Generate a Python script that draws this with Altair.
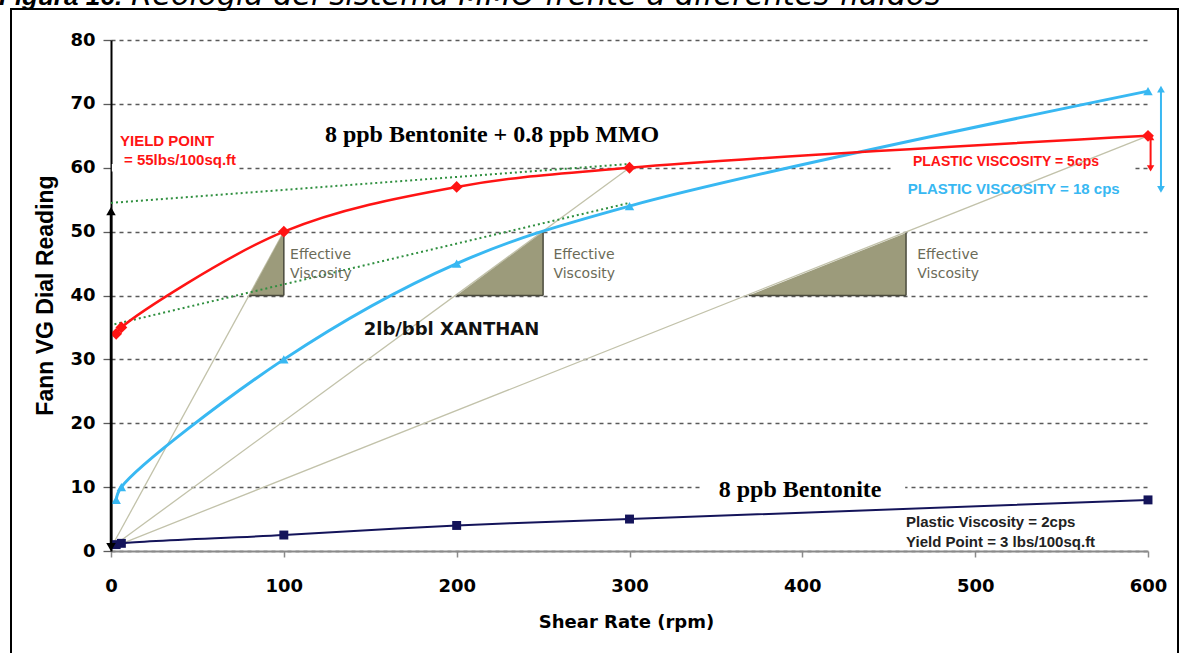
import altair as alt
import pandas as pd

# ---------------- data ----------------
rpm = [3, 6, 100, 200, 300, 600]
mmo = [34, 35, 50, 57, 60, 65]            # 8 ppb Bentonite + 0.8 ppb MMO
xanthan = [8, 10, 30, 45, 54, 72]          # 2lb/bbl XANTHAN
bentonite = [1, 1.2, 2.5, 4, 5, 8]         # 8 ppb Bentonite

x_ticks = [0, 100, 200, 300, 400, 500, 600]
y_ticks = [0, 10, 20, 30, 40, 50, 60, 70, 80]

# dotted green Bingham lines
fit_up_x = [0, 300]
fit_up_y = [54.5, 60.6]
fit_lo_x = [2, 300]
fit_lo_y = [35.5, 54.5]

# effective-viscosity rays (origin -> MMO readings)
ray_x = [100, 300, 600]
ray_y = [50, 60, 65]

# effective viscosity triangles (base at 40)
tri_x1 = [80, 200, 369]
tri_x2 = [100, 250, 460]
tri_top = [50, 50, 49.8]
tri_base = 40

RED = "#ff1414"
BLUE = "#38b8f2"
NAVY = "#14145a"
GREEN = "#2f8f3f"
BEIGE = "#c2c2aa"
OLIVE = "#9c9b7b"
SANS = "Liberation Sans"
WIDE = "DejaVu Sans"
SERIF = "Liberation Serif"

xs = alt.Scale(domain=[0, 600], nice=False, zero=False)
ys = alt.Scale(domain=[0, 80], nice=False, zero=False)

AX_X = alt.Axis(
    values=x_ticks, grid=False, tickSize=6, tickColor="#8a8a8a", tickWidth=1.5,
    domainColor="#8a8a8a", domainWidth=2, labelFont=WIDE, labelFontSize=18,
    labelFontWeight="bold", labelColor="black", labelPadding=20, labelFlush=False,
    title="Shear Rate (rpm)", titleFont=WIDE, titleFontSize=18, titleFontWeight="bold",
    titleColor="black", titleX=515, titleY=71, titleBaseline="middle", titleAlign="center")
AX_Y = alt.Axis(
    values=y_ticks, grid=True, gridDash=[4, 4], gridColor="#5a5a5a", gridWidth=1.3,
    tickSize=8, tickColor="#5a5a5a", tickWidth=1.3, domainColor="black", domainWidth=2,
    labelFont=WIDE, labelFontSize=18, labelFontWeight="bold", labelColor="black",
    labelPadding=8, title="Fann VG Dial Reading", titleFont=SANS, titleFontSize=23,
    titleFontWeight="bold", titleColor="black", titleX=-66, titleY=255,
    titleAngle=270, titleAlign="center", titleBaseline="middle")


def X(f="x"):
    return alt.X(f"{f}:Q", scale=xs, axis=AX_X)


def Y(f="y"):
    return alt.Y(f"{f}:Q", scale=ys, axis=AX_Y)


one = pd.DataFrame({"a": [0]})

# ---------------- frame & partial title ----------------
frame = alt.layer(
    alt.Chart(one).mark_rule(color="black", strokeWidth=2).encode(
        x=alt.value(-100), y=alt.value(-32), y2=alt.value(640)),
    alt.Chart(one).mark_rule(color="black", strokeWidth=2).encode(
        x=alt.value(-100), x2=alt.value(1067), y=alt.value(-31)),
    alt.Chart(one).mark_rule(color="black", strokeWidth=2).encode(
        x=alt.value(1067), y=alt.value(-32), y2=alt.value(640)),
)
title_a = alt.Chart(one).mark_text(
    text="Figura 16:", font=SANS, fontSize=26, fontWeight="bold", fontStyle="italic",
    align="left", baseline="alphabetic", color="black").encode(
    x=alt.value(-112), y=alt.value(-35))
title_b = alt.Chart(one).mark_text(
    text="Reología del sistema MMO frente a diferentes fluidos", font=WIDE, fontSize=30.5,
    fontStyle="italic", align="left", baseline="alphabetic", color="black").encode(
    x=alt.value(20), y=alt.value(-35))

# ---------------- white backgrounds behind labels on gridlines ----------------
bg_df = pd.DataFrame({
    "x": [0.5, 451, 342.5], "x2": [74, 592, 459.5],
    "y": [59.4, 59.4, 9.4], "y2": [60.6, 60.6, 10.6]})
bg = alt.Chart(bg_df).mark_rect(color="white").encode(
    x=X("x"), x2="x2:Q", y=Y("y"), y2="y2:Q")

# ---------------- rays ----------------
ray_rows = []
for i, (rx, ry) in enumerate(zip(ray_x, ray_y)):
    ray_rows.append({"r": i, "x": 0, "y": 0.5})
    ray_rows.append({"r": i, "x": rx, "y": ry})
rays = alt.Chart(pd.DataFrame(ray_rows)).mark_line(color=BEIGE, strokeWidth=1.3).encode(
    x=X(), y=Y(), detail="r:N")

# ---------------- triangles ----------------
tri_rows = []
edge_rows = []
for i, (a, b, t) in enumerate(zip(tri_x1, tri_x2, tri_top)):
    tri_rows.append({"t": i, "x": a, "y": tri_base, "y2": tri_base})
    tri_rows.append({"t": i, "x": b, "y": t, "y2": tri_base})
    edge_rows.append({"x": b, "y": tri_base, "y2": t, "x1": a})
tri = alt.Chart(pd.DataFrame(tri_rows)).mark_area(color=OLIVE, opacity=1).encode(
    x=X(), y=Y(), y2="y2:Q", detail="t:N")
edges_df = pd.DataFrame(edge_rows)
tri_edge_v = alt.Chart(edges_df).mark_rule(color="#4a4a3c", strokeWidth=1.5).encode(
    x=X(), y=Y(), y2="y2:Q")
tri_edge_h = alt.Chart(edges_df).mark_rule(color="#4a4a3c", strokeWidth=1.5).encode(
    x=X("x1"), x2="x:Q", y=Y())

# ---------------- dotted fits ----------------
fit_df = pd.DataFrame({
    "f": ["u", "u", "l", "l"],
    "x": fit_up_x + fit_lo_x, "y": fit_up_y + fit_lo_y})
fits = alt.Chart(fit_df).mark_line(color=GREEN, strokeWidth=2, strokeDash=[2, 3]).encode(
    x=X(), y=Y(), detail="f:N")

# ---------------- series ----------------
def series(vals, color, width, shape, size):
    df = pd.DataFrame({"x": rpm, "y": vals})
    line = alt.Chart(df).mark_line(color=color, strokeWidth=width, interpolate="catmull-rom").encode(
        x=X(), y=Y())
    pts = alt.Chart(df).mark_point(shape=shape, filled=True, color=color, size=size, opacity=1).encode(
        x=X(), y=Y())
    return line, pts


nav_l, nav_p = series(bentonite, NAVY, 2, "square", 80)
blu_l, blu_p = series(xanthan, BLUE, 3, "triangle-up", 90)
red_l, red_p = series(mmo, RED, 2.5, "diamond", 140)

# ---------------- arrows ----------------
arrow_x = [0, 601.5, 607.5]
arrow_lo = [0.6, 59.9, 56.6]
arrow_hi = [53.2, 64.8, 72.3]
arrow_col = ["black", RED, BLUE]
arrow_w = [2.5, 2, 2]
arrow_size = [90, 55, 60]
arrows = []
for ax_, lo, hi, c, w, s in zip(arrow_x, arrow_lo, arrow_hi, arrow_col, arrow_w, arrow_size):
    d = pd.DataFrame({"x": [ax_], "lo": [lo], "hi": [hi]})
    arrows.append(alt.Chart(d).mark_rule(color=c, strokeWidth=w).encode(
        x=X(), y=Y("lo"), y2="hi:Q"))
    arrows.append(alt.Chart(d).mark_point(shape="triangle-up", filled=True, color=c, size=s, opacity=1).encode(
        x=X(), y=Y("hi")))
    arrows.append(alt.Chart(d).mark_point(shape="triangle-down", filled=True, color=c, size=s, opacity=1).encode(
        x=X(), y=Y("lo")))

# ---------------- text annotations ----------------
def label(texts, xv, yv, **kw):
    df = pd.DataFrame({"t": texts, "x": xv, "y": yv})
    base = dict(align="left", baseline="middle", font=SANS)
    base.update(kw)
    return alt.Chart(df).mark_text(**base).encode(x=X(), y=Y(), text="t:N")


texts = [
    label(["YIELD POINT", "= 55lbs/100sq.ft"], [5.2, 7.5], [64.2, 61.2],
          color=RED, fontSize=15, fontWeight="bold"),
    label(["8 ppb Bentonite + 0.8 ppb MMO"], [220.5], [65.1], align="center",
          font=SERIF, fontSize=24, fontWeight="bold", color="black"),
    label(["PLASTIC VISCOSITY = 5cps"], [464], [60.9], color=RED, fontSize=14, fontWeight="bold"),
    label(["PLASTIC VISCOSITY = 18 cps"], [461], [56.6], color=BLUE, fontSize=15, fontWeight="bold"),
    label(["Effective"] * 3, [103.6, 256, 466.5], [46.4] * 3, font=WIDE, color="#6b6b58", fontSize=14),
    label(["Viscosity"] * 3, [103.6, 256, 466.5], [43.3] * 3, font=WIDE, color="#6b6b58", fontSize=14),
    label(["2lb/bbl XANTHAN"], [197], [34.6], align="center", font=WIDE, fontSize=18,
          fontWeight="bold", color="#111111"),
    label(["8 ppb Bentonite"], [398.7], [9.6], align="center", font=SERIF, fontSize=24,
          fontWeight="bold", color="black"),
    label(["Plastic Viscosity = 2cps", "Yield Point = 3 lbs/100sq.ft"], [460, 460], [4.6, 1.4],
          color="#222222", fontSize=15, fontWeight="bold"),
]

chart = alt.layer(
    bg, rays, tri, tri_edge_v, tri_edge_h, fits,
    nav_l, blu_l, red_l, nav_p, blu_p, red_p,
    *texts, *arrows, frame, title_a, title_b,
).properties(
    width=1037, height=511,
    autosize=alt.AutoSizeParams(type="none"),
    padding={"left": 111, "top": 40, "right": 33, "bottom": 102},
).configure(background="white").configure_view(stroke=None)

chart.save("out.html", embed_options={"renderer": "svg", "actions": False})
